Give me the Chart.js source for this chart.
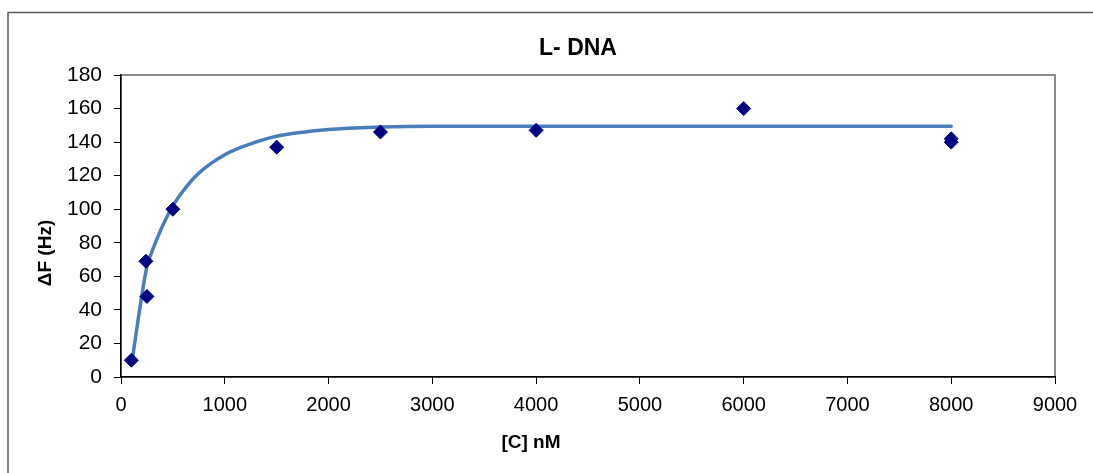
<!DOCTYPE html>
<html>
<head>
<meta charset="utf-8">
<script src="https://cdn.jsdelivr.net/npm/chart.js@4.4.1/dist/chart.umd.min.js"></script>
<style>
  html, body { margin: 0; padding: 0; background: #fff; }
  #wrap { width: 1093px; height: 473px; }
</style>
</head>
<body>
<div id="wrap"><canvas id="dnaChart" width="1093" height="473"></canvas></div>
<script>
// measured frequency shift vs concentration
const concNM = [100, 250, 240, 500, 1500, 2500, 4000, 6000, 8000, 8000];
const deltaF = [10, 48, 69, 100, 137, 146, 147, 160, 142, 140];

// saturation fit curve
const fitConc = [100, 250, 300, 400, 500, 600, 750, 1000, 1250, 1500, 2000, 2500, 3000, 4000, 5000, 6000, 7000, 8000];
const fitDeltaF = [7, 66, 75, 90, 102, 111, 121.5, 132.5, 139, 143.5, 147.5, 149, 149.5, 149.5, 149.5, 149.5, 149.5, 149.5];

const chartTitle = "L- DNA";
const xTitle = "[C] nM";
const yTitle = "ΔF (Hz)";

const FONT = "'Liberation Sans', Arial, sans-serif";

// frame, plot border and titles
const decorations = {
  id: "decorations",
  beforeDraw(chart) {
    const { ctx, chartArea: a } = chart;
    ctx.save();
    ctx.strokeStyle = "#5a5a5a";
    ctx.lineWidth = 1.5;
    ctx.strokeRect(8, 12.5, 1200, 600);
    ctx.strokeStyle = "#8c8c8c";
    ctx.lineWidth = 2;
    ctx.strokeRect(a.left, a.top, a.right - a.left, a.bottom - a.top);
    ctx.restore();
  },
  afterDraw(chart) {
    const { ctx } = chart;
    ctx.save();
    ctx.fillStyle = "#000";
    ctx.textAlign = "center";
    ctx.textBaseline = "middle";
    ctx.font = "bold 23px " + FONT;
    ctx.fillText(chartTitle, 578, 49);
    ctx.font = "bold 19px " + FONT;
    ctx.fillText(xTitle, 531, 443);
    ctx.translate(46, 253);
    ctx.rotate(-Math.PI / 2);
    ctx.fillText(yTitle, 0, 0);
    ctx.restore();
  }
};

new Chart(document.getElementById("dnaChart"), {
  type: "scatter",
  data: {
    datasets: [
      {
        label: "data",
        data: concNM.map((x, i) => ({ x, y: deltaF[i] })),
        pointStyle: "rectRot",
        pointRadius: 7,
        backgroundColor: "#000080",
        borderColor: "#000080",
        borderWidth: 1,
        showLine: false,
        order: 1
      },
      {
        label: "fit",
        data: fitConc.map((x, i) => ({ x, y: fitDeltaF[i] })),
        showLine: true,
        pointRadius: 0,
        borderColor: "#4a7ebb",
        borderWidth: 3.5,
        borderCapStyle: "round",
        cubicInterpolationMode: "monotone",
        fill: false,
        order: 2
      }
    ]
  },
  options: {
    responsive: false,
    animation: false,
    layout: { padding: { top: 75, right: 38, bottom: 0, left: 0 } },
    plugins: { legend: { display: false }, tooltip: { enabled: false }, title: { display: false } },
    scales: {
      x: {
        type: "linear",
        min: 0, max: 9000,
        afterFit: s => { s.height = 96; },
        ticks: { stepSize: 1000, color: "#000", font: { family: FONT, size: 20 }, padding: 9, maxRotation: 0,
                 callback: v => String(v) },
        grid: { display: true, drawOnChartArea: false, tickLength: 7, color: "#000", tickWidth: 1 },
        border: { color: "#000", width: 1.5 }
      },
      y: {
        min: 0, max: 180,
        afterFit: s => { s.width = 121; },
        ticks: { stepSize: 20, color: "#000", font: { family: FONT, size: 21 }, padding: 12 },
        grid: { display: true, drawOnChartArea: false, tickLength: 7, color: "#000", tickWidth: 1 },
        border: { color: "#000", width: 1.5 }
      }
    }
  },
  plugins: [decorations]
});
</script>
</body>
</html>
